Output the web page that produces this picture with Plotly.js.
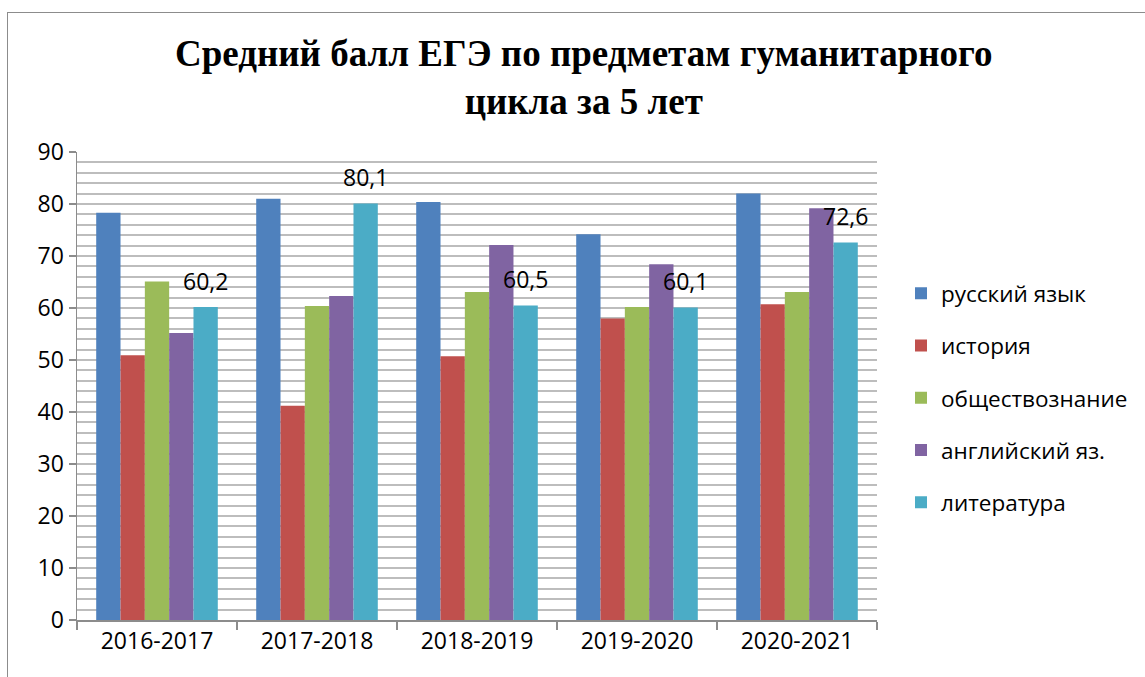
<!DOCTYPE html>
<html><head><meta charset="utf-8">
<script src="https://cdn.plot.ly/plotly-3.0.1.min.js"></script>
<style>
html,body{margin:0;padding:0;background:#fff;overflow:hidden}
#chart{width:1145px;height:677px}
#frame{position:absolute;left:7px;top:12px;width:1200px;height:700px;border:1.5px solid #8c8c8c;pointer-events:none}
</style></head>
<body>
<div id="chart"></div>
<div id="frame"></div>
<script>
const categories = ['2016-2017','2017-2018','2018-2019','2019-2020','2020-2021'];
const seriesNames = ['русский язык','история','обществознание','английский яз.','литература'];
const russian = [78.3, 81.0, 80.4, 74.2, 82.0];
const history = [50.9, 41.2, 50.7, 58.0, 60.7];
const social = [65.1, 60.4, 63.1, 60.2, 63.1];
const english = [55.2, 62.3, 72.1, 68.4, 79.2];
const literature = [60.2, 80.1, 60.5, 60.1, 72.6];
const titleText = '<b>Средний балл ЕГЭ по предметам гуманитарного<br>цикла за 5 лет</b>';
const colors = ['#4F81BD','#C0504D','#9BBB59','#8064A2','#4BACC6'];
const allSeries = [russian, history, social, english, literature];
const font = 'Open Sans, Noto Sans, sans-serif';

const traces = allSeries.map((vals, i) => ({
  type: 'bar', x: categories, y: vals, name: seriesNames[i],
  marker: {color: colors[i]}, legendgroup: 'g' + i,
  hoverinfo: 'y'
}));

const annotations = literature.map((v, i) => ({
  x: categories[i], y: v, xref: 'x', yref: 'y',
  text: v.toFixed(1).replace('.', ','), showarrow: false,
  xshift: 48, yshift: 26,
  font: {family: font, size: 23, color: '#000'}
}));
annotations.push({
  xref: 'paper', yref: 'paper', x: 0.633, y: 1.159,
  xanchor: 'center', yanchor: 'middle', showarrow: false,
  text: titleText,
  font: {family: 'Liberation Serif, Times New Roman, serif', size: 37, color: '#000'}
});

const layout = {
  width: 1145, height: 677,
  margin: {l: 77, r: 265, t: 152, b: 57},
  paper_bgcolor: '#fff', plot_bgcolor: '#fff',
  barmode: 'group', bargap: 0.24, bargroupgap: 0,
  xaxis: {
    type: 'category', showline: true, linecolor: '#8c8c8c', linewidth: 1.5,
    ticks: 'outside', tickson: 'boundaries', ticklen: 8, tickcolor: '#8c8c8c', tickwidth: 1.5,
    tickfont: {family: font, size: 23, color: '#000'},
    showgrid: false, zeroline: false
  },
  yaxis: {
    range: [0, 90], dtick: 10, tick0: 0,
    showline: true, linecolor: '#8c8c8c', linewidth: 1.5,
    ticks: 'outside', ticklen: 7, tickcolor: '#8c8c8c', tickwidth: 1.5,
    tickfont: {family: font, size: 23, color: '#000'},
    showgrid: true, gridcolor: '#BDBDBD', gridwidth: 2,
    minor: {dtick: 2, showgrid: true, gridcolor: '#BDBDBD', gridwidth: 2, ticks: ''},
    zeroline: false
  },
  legend: {
    x: 1.03, xanchor: 'left', y: 0.474, yanchor: 'middle',
    font: {family: font, size: 22.5, color: '#000'},
    tracegroupgap: 20, itemwidth: 30
  },
  annotations: annotations,
  showlegend: true
};

Plotly.newPlot('chart', traces, layout, {displayModeBar: false, staticPlot: true});
</script>
</body></html>
